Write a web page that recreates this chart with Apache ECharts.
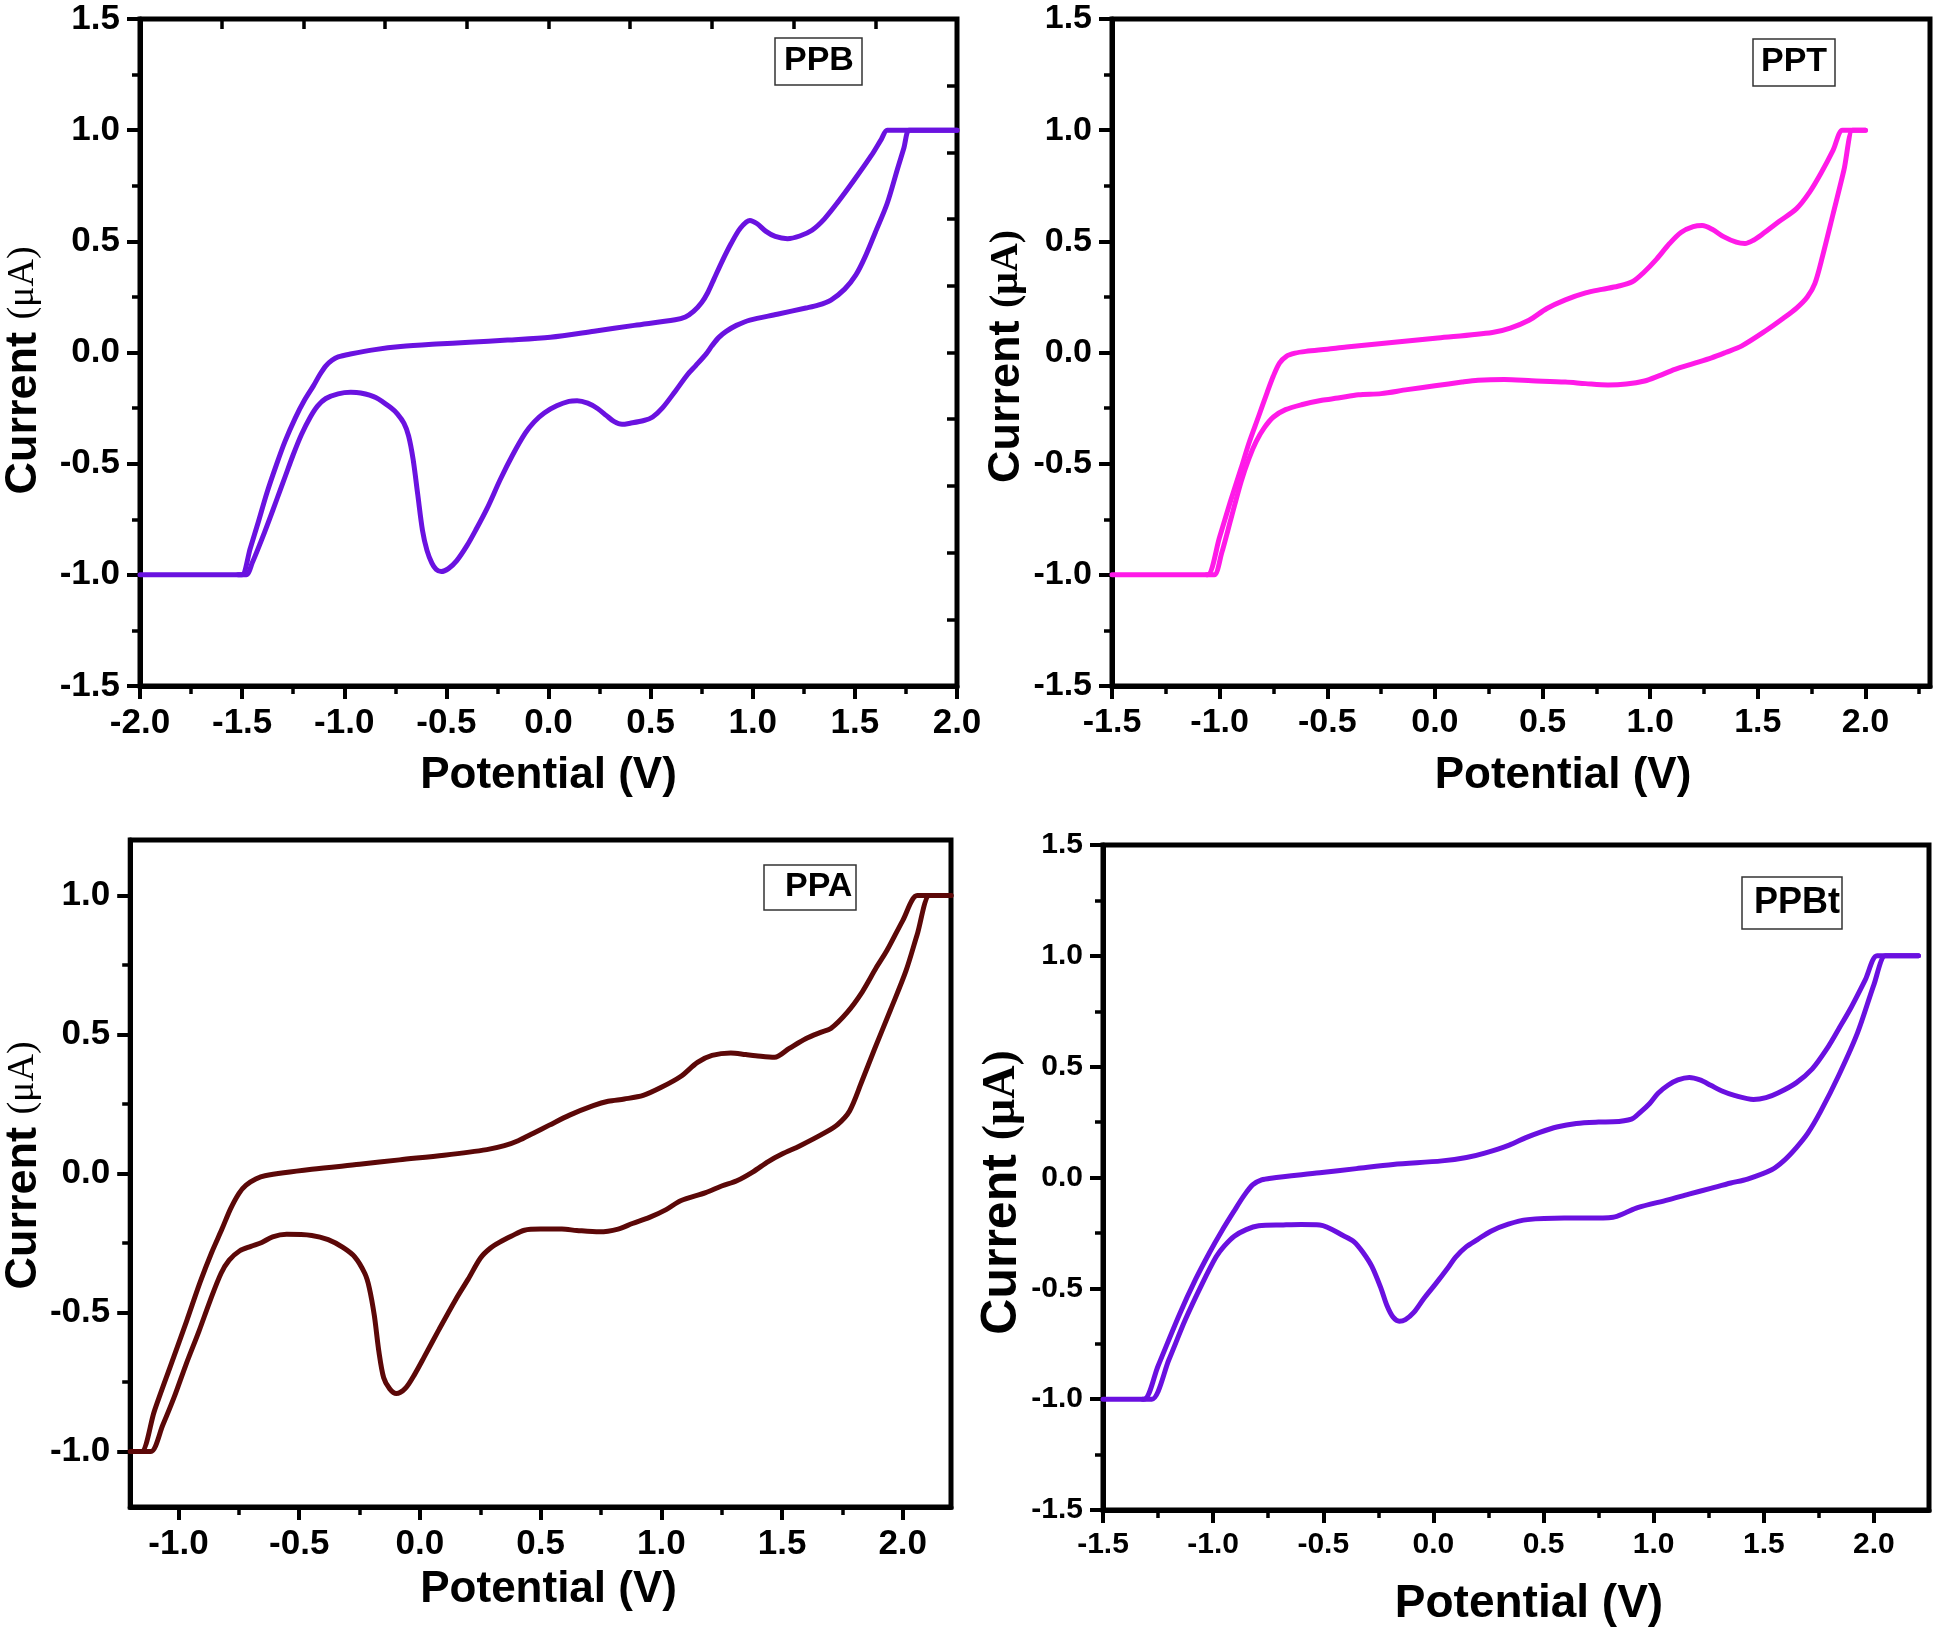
<!DOCTYPE html>
<html><head><meta charset="utf-8">
<script src="https://cdn.jsdelivr.net/npm/echarts@6/dist/echarts.min.js"></script>
<style>html,body{margin:0;padding:0;background:#fff}#c{width:1937px;height:1637px}</style>
</head><body><div id="c"></div><script>
// ---------- data ----------
const panelNames = ['PPB', 'PPT', 'PPA', 'PPBt'];

const ppbForward = [[-2.0,-1.0],[-1.6,-1.0],[-1.54,-1.0],[-1.502,-1.0],[-1.46,-0.88],[-1.42,-0.76],[-1.38,-0.635],[-1.334,-0.51],[-1.29,-0.4],[-1.24,-0.295],[-1.195,-0.215],[-1.151,-0.15],[-1.12,-0.1],[-1.09,-0.06],[-1.06,-0.035],[-1.03,-0.02],[-0.97,-0.007],[-0.85,0.013],[-0.724,0.027],[-0.55,0.038],[-0.388,0.046],[-0.2,0.056],[0.009,0.069],[0.223,0.096],[0.42,0.122],[0.62,0.147],[0.67,0.16],[0.71,0.185],[0.75,0.225],[0.78,0.27],[0.81,0.33],[0.85,0.41],[0.894,0.49],[0.94,0.56],[0.986,0.594],[1.02,0.58],[1.063,0.546],[1.11,0.522],[1.17,0.512],[1.23,0.524],[1.29,0.55],[1.35,0.6],[1.42,0.68],[1.50,0.78],[1.58,0.885],[1.63,0.96],[1.658,1.0],[1.7,1.0],[2.0,1.0]];
const ppbReverse = [[2.0,1.0],[1.8,1.0],[1.765,1.0],[1.74,0.92],[1.71,0.83],[1.658,0.67],[1.60,0.54],[1.55,0.43],[1.505,0.349],[1.45,0.285],[1.383,0.236],[1.32,0.213],[1.26,0.2],[1.12,0.172],[0.986,0.146],[0.92,0.122],[0.87,0.095],[0.834,0.068],[0.80,0.03],[0.773,-0.005],[0.72,-0.06],[0.68,-0.1],[0.62,-0.175],[0.559,-0.248],[0.51,-0.29],[0.467,-0.306],[0.40,-0.318],[0.36,-0.323],[0.32,-0.31],[0.284,-0.284],[0.24,-0.252],[0.192,-0.228],[0.14,-0.217],[0.10,-0.22],[0.04,-0.24],[-0.021,-0.272],[-0.07,-0.312],[-0.113,-0.362],[-0.175,-0.46],[-0.235,-0.569],[-0.30,-0.70],[-0.357,-0.8],[-0.40,-0.87],[-0.449,-0.936],[-0.49,-0.972],[-0.525,-0.985],[-0.55,-0.975],[-0.571,-0.947],[-0.595,-0.89],[-0.617,-0.80],[-0.64,-0.64],[-0.663,-0.48],[-0.685,-0.375],[-0.708,-0.318],[-0.74,-0.276],[-0.77,-0.25],[-0.846,-0.202],[-0.92,-0.182],[-0.968,-0.179],[-1.03,-0.186],[-1.09,-0.207],[-1.13,-0.24],[-1.166,-0.29],[-1.21,-0.37],[-1.25,-0.46],[-1.29,-0.56],[-1.33,-0.66],[-1.37,-0.76],[-1.41,-0.855],[-1.45,-0.945],[-1.48,-1.0],[-1.52,-1.0]];

const pptForward = [[-1.5,-1.0],[-1.15,-1.0],[-1.09,-1.0],[-1.056,-1.0],[-1.0,-0.83],[-0.95,-0.67],[-0.90,-0.52],[-0.864,-0.408],[-0.82,-0.29],[-0.779,-0.179],[-0.75,-0.105],[-0.722,-0.048],[-0.69,-0.017],[-0.65,-0.003],[-0.6,0.005],[-0.5,0.015],[-0.411,0.025],[-0.2,0.045],[0.013,0.065],[0.267,0.09],[0.35,0.11],[0.437,0.145],[0.52,0.198],[0.606,0.237],[0.70,0.268],[0.776,0.284],[0.85,0.298],[0.917,0.318],[0.97,0.36],[1.03,0.42],[1.09,0.49],[1.143,0.54],[1.20,0.566],[1.242,0.571],[1.29,0.553],[1.341,0.521],[1.40,0.496],[1.44,0.49],[1.48,0.505],[1.525,0.535],[1.60,0.59],[1.68,0.647],[1.74,0.72],[1.794,0.807],[1.85,0.91],[1.893,1.0],[1.93,1.0],[2.0,1.0]];
const pptReverse = [[2.0,1.0],[1.96,1.0],[1.94,1.0],[1.90,0.82],[1.85,0.624],[1.80,0.43],[1.765,0.31],[1.73,0.25],[1.68,0.2],[1.62,0.155],[1.54,0.1],[1.426,0.03],[1.35,0.0],[1.285,-0.024],[1.20,-0.05],[1.115,-0.076],[1.04,-0.105],[0.974,-0.128],[0.889,-0.142],[0.804,-0.146],[0.70,-0.14],[0.606,-0.133],[0.45,-0.127],[0.323,-0.122],[0.2,-0.125],[0.126,-0.133],[0.0,-0.15],[-0.129,-0.167],[-0.25,-0.185],[-0.355,-0.19],[-0.45,-0.205],[-0.525,-0.215],[-0.62,-0.235],[-0.694,-0.257],[-0.75,-0.29],[-0.793,-0.339],[-0.83,-0.40],[-0.864,-0.477],[-0.90,-0.58],[-0.949,-0.754],[-0.99,-0.90],[-1.025,-1.0],[-1.06,-1.0]];

const ppaForward = [[-1.2,-1.0],[-1.18,-1.0],[-1.153,-1.0],[-1.10,-0.855],[-1.03,-0.685],[-0.966,-0.53],[-0.91,-0.39],[-0.863,-0.285],[-0.82,-0.2],[-0.785,-0.128],[-0.75,-0.072],[-0.72,-0.042],[-0.68,-0.02],[-0.642,-0.008],[-0.448,0.015],[-0.25,0.033],[-0.085,0.049],[0.1,0.066],[0.277,0.086],[0.35,0.1],[0.407,0.118],[0.47,0.145],[0.536,0.174],[0.62,0.21],[0.718,0.244],[0.78,0.26],[0.847,0.268],[0.925,0.281],[1.0,0.31],[1.08,0.349],[1.15,0.40],[1.21,0.425],[1.288,0.434],[1.35,0.428],[1.391,0.424],[1.469,0.418],[1.53,0.45],[1.598,0.485],[1.66,0.508],[1.702,0.522],[1.77,0.58],[1.832,0.653],[1.89,0.74],[1.935,0.803],[2.0,0.91],[2.06,1.0],[2.1,1.0],[2.2,1.0]];
const ppaReverse = [[2.2,1.0],[2.14,1.0],[2.111,1.0],[2.06,0.86],[2.013,0.728],[1.95,0.59],[1.883,0.447],[1.83,0.33],[1.78,0.225],[1.73,0.176],[1.676,0.146],[1.573,0.099],[1.5,0.07],[1.443,0.043],[1.38,0.006],[1.313,-0.026],[1.25,-0.045],[1.184,-0.069],[1.08,-0.098],[1.02,-0.13],[0.951,-0.158],[0.88,-0.18],[0.821,-0.2],[0.744,-0.21],[0.65,-0.205],[0.588,-0.2],[0.5,-0.2],[0.433,-0.204],[0.38,-0.225],[0.329,-0.248],[0.29,-0.27],[0.251,-0.304],[0.2,-0.38],[0.148,-0.454],[0.08,-0.56],[0.018,-0.66],[-0.02,-0.72],[-0.06,-0.773],[-0.098,-0.792],[-0.125,-0.775],[-0.15,-0.735],[-0.17,-0.64],[-0.189,-0.51],[-0.21,-0.41],[-0.228,-0.36],[-0.27,-0.3],[-0.319,-0.266],[-0.38,-0.238],[-0.448,-0.223],[-0.552,-0.219],[-0.61,-0.228],[-0.655,-0.248],[-0.7,-0.262],[-0.746,-0.278],[-0.79,-0.312],[-0.824,-0.36],[-0.87,-0.46],[-0.915,-0.567],[-0.97,-0.69],[-1.018,-0.805],[-1.065,-0.905],[-1.114,-1.0],[-1.15,-1.0]];

const ppbtForward = [[-1.5,-1.0],[-1.36,-1.0],[-1.314,-1.0],[-1.25,-0.85],[-1.153,-0.618],[-1.08,-0.46],[-1.015,-0.336],[-0.96,-0.24],[-0.904,-0.15],[-0.86,-0.082],[-0.821,-0.033],[-0.78,-0.011],[-0.737,-0.003],[-0.516,0.021],[-0.35,0.04],[-0.183,0.059],[0.039,0.075],[0.15,0.09],[0.233,0.11],[0.344,0.146],[0.42,0.18],[0.483,0.204],[0.56,0.228],[0.649,0.244],[0.75,0.25],[0.816,0.251],[0.899,0.263],[0.94,0.295],[0.982,0.334],[1.02,0.38],[1.065,0.416],[1.11,0.44],[1.162,0.451],[1.21,0.44],[1.259,0.416],[1.31,0.39],[1.37,0.369],[1.453,0.352],[1.51,0.36],[1.564,0.381],[1.647,0.427],[1.72,0.49],[1.786,0.58],[1.84,0.67],[1.897,0.768],[1.96,0.89],[2.014,1.0],[2.06,1.0],[2.202,1.0]];
const ppbtReverse = [[2.202,1.0],[2.09,1.0],[2.052,1.0],[2.0,0.87],[1.925,0.651],[1.84,0.46],[1.758,0.298],[1.70,0.2],[1.647,0.134],[1.59,0.075],[1.536,0.035],[1.426,-0.007],[1.35,-0.025],[1.259,-0.049],[1.16,-0.075],[1.065,-0.101],[0.927,-0.136],[0.87,-0.16],[0.816,-0.179],[0.70,-0.183],[0.594,-0.183],[0.428,-0.19],[0.34,-0.21],[0.261,-0.242],[0.2,-0.28],[0.15,-0.312],[0.1,-0.36],[0.067,-0.406],[0.01,-0.48],[-0.044,-0.547],[-0.09,-0.61],[-0.127,-0.641],[-0.155,-0.648],[-0.183,-0.63],[-0.21,-0.58],[-0.238,-0.5],[-0.28,-0.40],[-0.321,-0.336],[-0.36,-0.29],[-0.404,-0.265],[-0.516,-0.214],[-0.6,-0.212],[-0.682,-0.214],[-0.793,-0.218],[-0.85,-0.235],[-0.904,-0.265],[-0.95,-0.31],[-0.987,-0.359],[-1.05,-0.48],[-1.126,-0.641],[-1.2,-0.82],[-1.278,-1.0],[-1.32,-1.0]];

// tick values
const ppbXTicks  = [-2.0,-1.5,-1.0,-0.5,0.0,0.5,1.0,1.5,2.0];
const ppbXMinor  = [-1.75,-1.25,-0.75,-0.25,0.25,0.75,1.25,1.75];
const pptXTicks  = [-1.5,-1.0,-0.5,0.0,0.5,1.0,1.5,2.0];
const pptXMinor  = [-1.25,-0.75,-0.25,0.25,0.75,1.25,1.75,2.25];
const ppaXTicks  = [-1.0,-0.5,0.0,0.5,1.0,1.5,2.0];
const ppaXMinor  = [-0.75,-0.25,0.25,0.75,1.25,1.75];
const ppbtXTicks = [-1.5,-1.0,-0.5,0.0,0.5,1.0,1.5,2.0];
const ppbtXMinor = [-1.25,-0.75,-0.25,0.25,0.75,1.25,1.75];
const yTicks15   = [-1.5,-1.0,-0.5,0.0,0.5,1.0,1.5];
const yMinor15   = [-1.25,-0.75,-0.25,0.25,0.75,1.25];
const ppaYTicks  = [-1.0,-0.5,0.0,0.5,1.0];
const ppaYMinor  = [-0.75,-0.25,0.25,0.75];

// ---------- styling / layout ----------
const FONT = "'Liberation Sans', Arial, Helvetica, sans-serif";
const SERIF = "'Liberation Serif', 'DejaVu Serif', 'Times New Roman', serif";

const panels = [
  { title: panelNames[0], color: '#6a12e0', grid: {left:140, top:19, width:817, height:667},
    xMin:-2, xMax:2, yMin:-1.5, yMax:1.5, xMajor:ppbXTicks, xMinor:ppbXMinor, yMajor:yTicks15, yMinor:yMinor15,
    fwd:ppbForward, rev:ppbReverse, labelSize:35, xName:{size:44, gap:68, shift:0},
    yName:{a:45, b:38, bBold:false, gap:94, shift:18}, box:{left:775, top:38, size:34, pad:[5,8,6,9]}, extraTicks:true },
  { title: panelNames[1], color: '#ff1ae8', grid: {left:1112, top:19, width:818, height:667},
    xMin:-1.5, xMax:2.3, yMin:-1.5, yMax:1.5, xMajor:pptXTicks, xMinor:pptXMinor, yMajor:yTicks15, yMinor:yMinor15,
    fwd:pptForward, rev:pptReverse, labelSize:34, xName:{size:44, gap:68, shift:42},
    yName:{a:45, b:40, bBold:true, gap:81, shift:4}, box:{left:1753, top:39, size:34, pad:[5,8,6,8]}, extraTicks:false },
  { title: panelNames[2], color: '#5c0808', grid: {left:130, top:840, width:821, height:667},
    xMin:-1.2, xMax:2.2, yMin:-1.2, yMax:1.2, xMajor:ppaXTicks, xMinor:ppaXMinor, yMajor:ppaYTicks, yMinor:ppaYMinor,
    fwd:ppaForward, rev:ppaReverse, labelSize:35, xName:{size:44, gap:61, shift:8},
    yName:{a:45, b:38, bBold:false, gap:84, shift:-8}, box:{left:764, top:865, size:34, pad:[4,4,5,21]}, extraTicks:false },
  { title: panelNames[3], color: '#6a10e0', grid: {left:1103, top:845, width:826, height:665},
    xMin:-1.5, xMax:2.25, yMin:-1.5, yMax:1.5, xMajor:ppbtXTicks, xMinor:ppbtXMinor, yMajor:yTicks15, yMinor:yMinor15,
    fwd:ppbtForward, rev:ppbtReverse, labelSize:30, xName:{size:46, gap:71, shift:13},
    yName:{a:50, b:46, bBold:true, gap:68, shift:15}, box:{left:1742, top:877, size:36, pad:[7,2,7,12]}, extraTicks:false }
];

const grids = [], xAxes = [], yAxes = [], series = [], titles = [];
const fmt = v => v.toFixed(1);
const AXW = 5;

panels.forEach((p, gi) => {
  grids.push(Object.assign({show:true, borderColor:'#000', borderWidth:AXW, containLabel:false}, p.grid));
  const xi = xAxes.length, yi = yAxes.length;
  xAxes.push({ type:'value', gridIndex:gi, min:p.xMin, max:p.xMax, position:'bottom',
    axisLine:{show:true, onZero:false, lineStyle:{color:'#000', width:AXW}},
    axisTick:{show:true, customValues:p.xMajor, length:13, lineStyle:{color:'#000', width:4}},
    axisLabel:{show:true, customValues:p.xMajor, formatter:fmt, margin:20, color:'#000',
      fontFamily:FONT, fontWeight:'bold', fontSize:p.labelSize},
    splitLine:{show:false},
    name:'Potential (V)', nameLocation:'middle', nameGap:p.xName.gap,
    nameTextStyle:{color:'#000', fontFamily:FONT, fontWeight:'bold', fontSize:p.xName.size,
      padding:[0, p.xName.shift < 0 ? -2*p.xName.shift : 0, 0, p.xName.shift > 0 ? 2*p.xName.shift : 0]} });
  xAxes.push({ type:'value', gridIndex:gi, min:p.xMin, max:p.xMax, position:'bottom',
    axisLine:{show:false, onZero:false}, axisLabel:{show:false}, splitLine:{show:false},
    axisTick:{show:true, customValues:p.xMinor, length:8, lineStyle:{color:'#000', width:3.5}} });
  yAxes.push({ type:'value', gridIndex:gi, min:p.yMin, max:p.yMax, position:'left',
    axisLine:{show:true, onZero:false, lineStyle:{color:'#000', width:AXW}},
    axisTick:{show:true, customValues:p.yMajor, length:13, lineStyle:{color:'#000', width:4}},
    axisLabel:{show:true, customValues:p.yMajor, formatter:fmt, margin:20, color:'#000',
      fontFamily:FONT, fontWeight:'bold', fontSize:p.labelSize},
    splitLine:{show:false},
    name:'{a|Current }{b|(\u03bcA)}', nameLocation:'middle', nameGap:p.yName.gap,
    nameTextStyle:{color:'#000', padding:[0, p.yName.shift > 0 ? 2*p.yName.shift : 0, 0, p.yName.shift < 0 ? -2*p.yName.shift : 0],
      rich:{ a:{fontFamily:FONT, fontWeight:'bold', fontSize:p.yName.a, color:'#000'},
             b:{fontFamily:SERIF, fontWeight:p.yName.bBold ? 'bold' : 'normal', fontSize:p.yName.b, color:'#000'} }} });
  yAxes.push({ type:'value', gridIndex:gi, min:p.yMin, max:p.yMax, position:'left',
    axisLine:{show:false, onZero:false}, axisLabel:{show:false}, splitLine:{show:false},
    axisTick:{show:true, customValues:p.yMinor, length:8, lineStyle:{color:'#000', width:3.5}} });
  if (p.extraTicks) {
    xAxes.push({ type:'value', gridIndex:gi, min:p.xMin, max:p.xMax, position:'top', interval:0.4,
      axisLine:{show:false, onZero:false}, axisLabel:{show:false}, splitLine:{show:false},
      axisTick:{show:true, inside:true, length:10, lineStyle:{color:'#000', width:3.5}} });
    yAxes.push({ type:'value', gridIndex:gi, min:p.yMin, max:p.yMax, position:'right', interval:0.3,
      axisLine:{show:false, onZero:false}, axisLabel:{show:false}, splitLine:{show:false},
      axisTick:{show:true, inside:true, length:10, lineStyle:{color:'#000', width:3.5}} });
  }
  [p.fwd, p.rev].forEach(d => series.push({ type:'line', xAxisIndex:xi, yAxisIndex:yi, data:d,
    showSymbol:false, symbol:'none', smooth:0.3, clip:true,
    lineStyle:{color:p.color, width:5, cap:'round', join:'round'} }));
  titles.push({ text:p.title, left:p.box.left, top:p.box.top, padding:p.box.pad,
    borderWidth:1.5, borderColor:'#333', backgroundColor:'#fff',
    textStyle:{fontFamily:FONT, fontWeight:'bold', fontSize:p.box.size, color:'#000', lineHeight:p.box.size+2} });
});

const chart = echarts.init(document.getElementById('c'), null, {renderer:'canvas', width:1937, height:1637});
chart.setOption({ animation:false, backgroundColor:'#fff', title:titles, grid:grids, xAxis:xAxes, yAxis:yAxes, series:series });
</script></body></html>
